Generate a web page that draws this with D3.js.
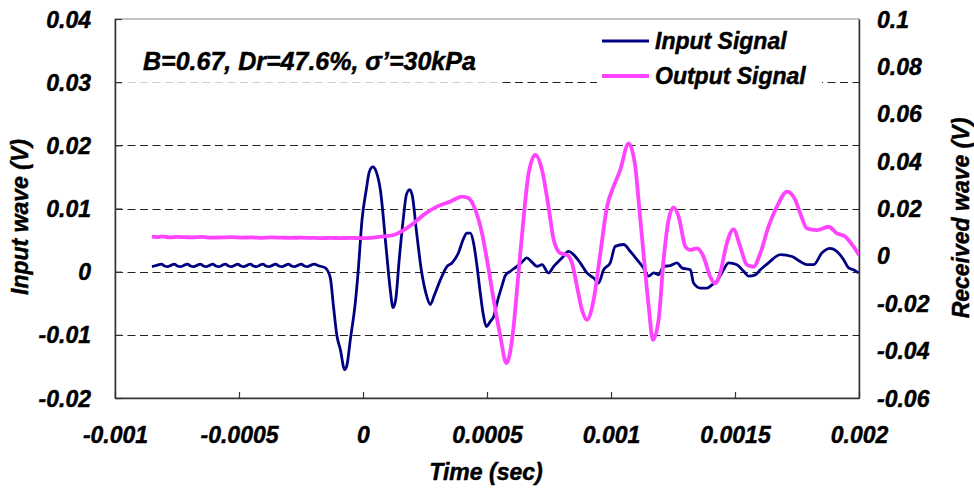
<!DOCTYPE html>
<html>
<head>
<meta charset="utf-8">
<script src="https://cdn.jsdelivr.net/npm/d3@7/dist/d3.min.js"></script>
<style>
  html, body { margin: 0; padding: 0; background: #fff; }
  svg { display: block; }
  text { font-family: "Liberation Sans", Arial, sans-serif; font-weight: bold; font-style: italic; fill: #000; stroke: #000; stroke-width: 0.45px; }
</style>
</head>
<body>
<svg id="chart" width="974" height="488"></svg>
<script>
// ---------------- data ----------------
const chartTitle = "B=0.67, Dr=47.6%, σ’=30kPa";
const seriesNames = ["Input Signal", "Output Signal"];
const xTicks = [-0.001, -0.0005, 0, 0.0005, 0.001, 0.0015, 0.002];
const yLeftTicks = [-0.02, -0.01, 0, 0.01, 0.02, 0.03, 0.04];
const yRightTicks = [-0.06, -0.04, -0.02, 0, 0.02, 0.04, 0.06, 0.08, 0.1];

// Input signal (left axis): time (s), voltage (V)
const inputTime = [
  -0.000851, -0.000832, -0.000813, -0.000800, -0.000787, -0.000774, -0.000761, -0.000748, -0.000735, -0.000722,
  -0.000708, -0.000695, -0.000682, -0.000669, -0.000656, -0.000643, -0.000631, -0.000618, -0.000606, -0.000593,
  -0.000580, -0.000568, -0.000555, -0.000542, -0.000530, -0.000517, -0.000505, -0.000492, -0.000480, -0.000467,
  -0.000454, -0.000442, -0.000429, -0.000417, -0.000404, -0.000391, -0.000378, -0.000365, -0.000352, -0.000339,
  -0.000326, -0.000313, -0.000301, -0.000288, -0.000275, -0.000262, -0.000249, -0.000236, -0.000224, -0.000211,
  -0.000198, -0.000176, -0.000152, -0.000132, -0.000119, -0.000105, -0.0000915, -0.0000742, -0.0000653, -0.0000512,
  -0.000031, -0.000019, -0.000004, 0.0000133, 0.0000254, 0.0000395, 0.0000536, 0.0000698, 0.0000939, 0.000110,
  0.000121, 0.000132, 0.000146, 0.000162, 0.000175, 0.000188, 0.000199, 0.000215, 0.000235, 0.000255,
  0.000271, 0.000287, 0.000312, 0.000339, 0.000359, 0.000385, 0.000404, 0.000419, 0.000433, 0.000446,
  0.000459, 0.000473, 0.000485, 0.000497, 0.000513, 0.000527, 0.000542, 0.000560, 0.000574, 0.000594,
  0.000621, 0.000638, 0.000661, 0.000679, 0.000702, 0.000722, 0.000748, 0.000769, 0.000802, 0.000829,
  0.000849, 0.000876, 0.000903, 0.000930, 0.000950, 0.000970, 0.000997, 0.001017, 0.001051, 0.001078,
  0.001105, 0.001131, 0.001152, 0.001172, 0.001192, 0.001212, 0.001239, 0.001266, 0.001286, 0.001320,
  0.001333, 0.001360, 0.001387, 0.001407, 0.001427, 0.001454, 0.001474, 0.001508, 0.001535, 0.001555,
  0.001582, 0.001602, 0.001635, 0.001683, 0.001730, 0.001763, 0.001790, 0.001817, 0.001851, 0.001884,
  0.001911, 0.001938, 0.001958, 0.001978, 0.001998
];
const inputValue = [
  0.0008, 0.0010, 0.0012, 0.0009, 0.0008, 0.0010, 0.0012, 0.0009, 0.0008, 0.0010,
  0.0012, 0.0009, 0.0008, 0.0010, 0.0012, 0.0009, 0.0008, 0.0010, 0.0012, 0.0009,
  0.0008, 0.0010, 0.0012, 0.0009, 0.0008, 0.0010, 0.0012, 0.0009, 0.0008, 0.0010,
  0.0012, 0.0009, 0.0008, 0.0010, 0.0012, 0.0009, 0.0008, 0.0010, 0.0012, 0.0009,
  0.0008, 0.0010, 0.0012, 0.0009, 0.0008, 0.0010, 0.0012, 0.0009, 0.0008, 0.0010,
  0.0012, 0.0009, 0.0006, -0.00095, -0.0055, -0.0102, -0.0123, -0.0155, -0.0149, -0.0108,
  -0.0049, 0.0003, 0.0082, 0.0130, 0.0158, 0.0166, 0.0158, 0.0130, 0.0035, -0.0029,
  -0.0057, -0.0044, 0.0019, 0.0082, 0.0122, 0.0130, 0.0120, 0.0066, 0.0003, -0.0036,
  -0.0052, -0.0038, -0.0013, 0.00084, 0.00138, 0.0030, 0.0051, 0.0061, 0.0061, 0.0045,
  0.0011, -0.0034, -0.0068, -0.0087, -0.0079, -0.0071, -0.0047, -0.0023, -0.0006, 0.00005,
  0.00084, 0.0014, 0.00217, 0.0016, 0.00084, 0.0011, -0.0002, 0.00084, 0.00217, 0.0032,
  0.0027, 0.0014, -0.0002, -0.0010, -0.0018, 0.0003, 0.0014, 0.0040, 0.0043, 0.0032,
  0.0019, 0.0006, -0.0007, -0.0002, -0.0005, 0.00084, 0.00095, 0.0014, 0.0006, 0.0003,
  -0.0018, -0.0026, -0.0026, -0.0021, -0.0015, 0.0003, 0.0014, 0.0011, 0.00005, -0.0007,
  -0.0005, 0.0003, 0.0014, 0.0027, 0.0024, 0.0016, 0.0011, 0.0011, 0.0030, 0.0037,
  0.0032, 0.0019, 0.0006, 0.0003, -0.0002
];

// Output signal (right axis): time (s), voltage (V)
const outputTime = [
  -0.000851, -0.000830, -0.000810, -0.000780, -0.000750, -0.000720, -0.000690, -0.000650, -0.000610, -0.000570,
  -0.000530, -0.000490, -0.000450, -0.000410, -0.000370, -0.000330, -0.000290, -0.000250, -0.000210, -0.000170,
  -0.000130, -0.000090, -0.000050, -0.000010, 0.000030, 0.0000698, 0.000123, 0.000164, 0.000204, 0.000244,
  0.000298, 0.000352, 0.000399, 0.000426, 0.000453, 0.000480, 0.000500, 0.000527, 0.000554, 0.000578,
  0.000601, 0.000627, 0.000648, 0.000668, 0.000695, 0.000722, 0.000748, 0.000769, 0.000796, 0.000823,
  0.000843, 0.000863, 0.000883, 0.000903, 0.000930, 0.000957, 0.000984, 0.001010, 0.001037, 0.001071,
  0.001098, 0.001111, 0.001131, 0.001152, 0.001169, 0.001192, 0.001212, 0.001232, 0.001252, 0.001273,
  0.001300, 0.001320, 0.001347, 0.001373, 0.001400, 0.001420, 0.001440, 0.001467, 0.001494, 0.001521,
  0.001548, 0.001575, 0.001602, 0.001635, 0.001669, 0.001710, 0.001743, 0.001763, 0.001790, 0.001830,
  0.001877, 0.001911, 0.001945, 0.001978, 0.002000
];
const outputValue = [
  0.0081, 0.0079, 0.0082, 0.0078, 0.0080, 0.0079, 0.0078, 0.0080, 0.0077, 0.0078,
  0.0079, 0.0077, 0.0078, 0.0076, 0.0078, 0.0077, 0.0076, 0.0077, 0.0076, 0.0075,
  0.0076, 0.0075, 0.0076, 0.0075, 0.0076, 0.0081, 0.0088, 0.0109, 0.0138, 0.0173,
  0.0208, 0.0229, 0.0250, 0.0243, 0.0194, 0.0095, -0.0017, -0.0186, -0.0341, -0.0453,
  -0.0355, -0.0073, 0.0165, 0.0349, 0.0426, 0.0362, 0.0208, 0.0067, 0.0011, 0.0004,
  -0.0031, -0.0130, -0.0228, -0.0270, -0.0186, 0.0011, 0.0208, 0.0292, 0.0362, 0.0475,
  0.0376, 0.0236, 0.0011, -0.0214, -0.0355, -0.0270, -0.0017, 0.0151, 0.0205, 0.0165,
  0.0039, 0.0025, 0.0032, -0.0003, -0.0088, -0.0116, -0.0073, 0.0053, 0.0112, 0.0039,
  -0.0038, -0.0046, 0.0011, 0.0123, 0.0208, 0.0271, 0.0236, 0.0180, 0.0116, 0.0109,
  0.0123, 0.0095, 0.0081, 0.0039, 0.0004
];

// ---------------- chart ----------------
const svg = d3.select("#chart");
const L = 115, R = 859, T = 19, B = 398;

const x = d3.scaleLinear().domain([-0.001, 0.002]).range([L, R]);
const yL = d3.scaleLinear().domain([-0.02, 0.04]).range([B, T]);
const yR = d3.scaleLinear().domain([-0.06, 0.1]).range([B, T]);
const fmt = d => d === 0 ? "0" : String(+d.toFixed(5));

// plot area border
svg.append("rect").attr("x", L).attr("y", T).attr("width", R - L).attr("height", B - T)
  .attr("fill", "#fff").attr("stroke", "#888").attr("stroke-width", 1);

// gridlines from left axis
svg.append("g").selectAll("line")
  .data(yLeftTicks.filter(d => d > -0.02 && d < 0.04))
  .join("line")
  .attr("x1", L).attr("x2", R)
  .attr("y1", d => Math.round(yL(d)) + 0.5).attr("y2", d => Math.round(yL(d)) + 0.5)
  .attr("stroke", "#222").attr("stroke-width", 1).attr("stroke-dasharray", "8,4.5");

// text box behind title (semi transparent white) and legend box (opaque)
svg.append("rect").attr("x", 122).attr("y", 38).attr("width", 378).attr("height", 50)
  .attr("fill", "#fff").attr("fill-opacity", 0.78);
svg.append("rect").attr("x", 597).attr("y", 24).attr("width", 225).attr("height", 68)
  .attr("fill", "#fff");

// axes
const xAxis = d3.axisBottom(x).tickValues(xTicks).tickFormat(fmt).tickSizeInner(-6).tickSizeOuter(0).tickPadding(0);
const gx = svg.append("g").attr("transform", `translate(0,${B})`).call(xAxis);
gx.select(".domain").attr("stroke", "#333").attr("stroke-width", 1.5);
gx.selectAll(".tick line").attr("stroke", "#333").attr("stroke-width", 1.2);
gx.selectAll(".tick text").attr("font-size", 23).attr("dy", null).attr("y", 45)
  .attr("font-family", null).attr("fill", "#000");

const yAxisL = d3.axisLeft(yL).tickValues(yLeftTicks).tickFormat(fmt).tickSizeInner(-7).tickSizeOuter(0).tickPadding(0);
const gyl = svg.append("g").attr("transform", `translate(${L},0)`).call(yAxisL);
gyl.select(".domain").attr("stroke", "#333").attr("stroke-width", 1.5);
gyl.selectAll(".tick line").attr("stroke", "#333").attr("stroke-width", 1.2);
gyl.selectAll(".tick text").attr("font-size", 23).attr("x", -24).attr("dy", null).attr("y", 8)
  .attr("font-family", null).attr("fill", "#000");

const yAxisR = d3.axisRight(yR).tickValues(yRightTicks).tickFormat(fmt).tickSize(0).tickPadding(0);
const gyr = svg.append("g").attr("transform", `translate(${R},0)`).call(yAxisR);
gyr.select(".domain").attr("stroke", "#333").attr("stroke-width", 1.5);
gyr.selectAll(".tick text").attr("font-size", 23).attr("x", 18).attr("dy", null).attr("y", 8)
  .attr("font-family", null).attr("fill", "#000");

// axis titles
svg.append("text").attr("x", 486).attr("y", 480).attr("text-anchor", "middle")
  .attr("font-size", 23).text("Time (sec)");
svg.append("text").attr("transform", "translate(28,217) rotate(-90)").attr("text-anchor", "middle")
  .attr("font-size", 23).text("Input wave (V)");
svg.append("text").attr("transform", "translate(969,218) rotate(-90)").attr("text-anchor", "middle")
  .attr("font-size", 23).text("Received wave (V)");

// series
const clip = svg.append("clipPath").attr("id", "plotclip").append("rect")
  .attr("x", L).attr("y", T).attr("width", R - L).attr("height", B - T);

const inputData = inputTime.map((t, i) => [t, inputValue[i]]);
const outputData = outputTime.map((t, i) => [t, outputValue[i]]);

const lineL = d3.line().x(d => x(d[0])).y(d => yL(d[1])).curve(d3.curveMonotoneX);
const lineR = d3.line().x(d => x(d[0])).y(d => yR(d[1])).curve(d3.curveMonotoneX);

svg.append("path").datum(inputData).attr("d", lineL).attr("fill", "none")
  .attr("stroke", "#000080").attr("stroke-width", 2.8).attr("stroke-linejoin", "round")
  .attr("clip-path", "url(#plotclip)");
svg.append("path").datum(outputData).attr("d", lineR).attr("fill", "none")
  .attr("stroke", "#ff44ff").attr("stroke-width", 3.8).attr("stroke-linejoin", "round")
  .attr("clip-path", "url(#plotclip)");

// title
svg.append("text").attr("x", 143).attr("y", 70).attr("font-size", 25).text(chartTitle);

// legend
const legColors = ["#000080", "#ff44ff"];
const legWidths = [2.8, 3.8];
const leg = svg.append("g");
seriesNames.forEach((name, i) => {
  const yy = 41 + i * 35;
  leg.append("line").attr("x1", 602).attr("x2", 649).attr("y1", yy).attr("y2", yy)
    .attr("stroke", legColors[i]).attr("stroke-width", legWidths[i]);
  leg.append("text").attr("x", 655).attr("y", yy + 7.5).attr("font-size", 23).text(name);
});
</script>
</body>
</html>
